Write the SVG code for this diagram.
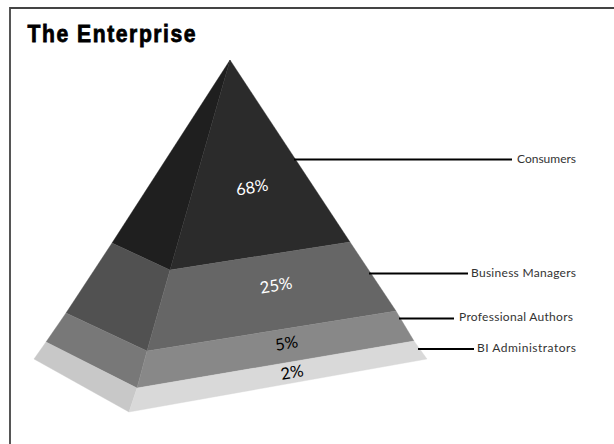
<svg xmlns="http://www.w3.org/2000/svg" width="614" height="444" viewBox="0 0 614 444">
<style>
.lead{stroke:#000;stroke-width:2.2;fill:none}
.lbl{font-family:"Lato","Liberation Sans",sans-serif;font-size:12px;fill:#333}
.pct{font-family:"Lato","Liberation Sans",sans-serif;font-size:16.500px;text-anchor:middle}
polygon{stroke-width:.4}
</style>
<rect width="614" height="444" fill="#fff"/>
<path d="M10 444V8H614" fill="none" stroke="#444" stroke-width="1.800"/>
<text transform="translate(27.500,42) scale(.88,1)" font-family="'Liberation Sans',sans-serif" font-size="24" font-weight="700" stroke="#000" stroke-width=".8" textLength="191" lengthAdjust="spacing" fill="#000">The Enterprise</text>
<g id="tier-consumers">
<polygon points="230,60 112,243 170,270" fill="#1f1f1f" stroke="#1f1f1f"/>
<polygon points="230,60 170,270 350,242" fill="#2b2b2b" stroke="#2b2b2b"/>
<text class="pct" transform="translate(253,193) rotate(-10)" fill="#fff">68%</text>
</g>
<g id="tier-managers">
<polygon points="112,243 170,270 147,351 66,313" fill="#515151" stroke="#515151"/>
<polygon points="170,270 350,242 396,311 147,351" fill="#666" stroke="#666"/>
<text class="pct" transform="translate(277,291) rotate(-10)" fill="#fff">25%</text>
</g>
<g id="tier-authors">
<polygon points="66,313 147,351 137,388 46,342" fill="#787878" stroke="#787878"/>
<polygon points="147,351 396,311 414,341 137,388" fill="#888" stroke="#888"/>
<text class="pct" transform="translate(287.500,349) rotate(-10)" fill="#000">5%</text>
</g>
<g id="tier-admins">
<polygon points="46,342 137,388 129,412 34,359" fill="#c8c8c8" stroke="#c8c8c8"/>
<polygon points="137,388 414,341 427,359 129,412" fill="#d9d9d9" stroke="#d9d9d9"/>
<text class="pct" transform="translate(293,378) rotate(-10)" fill="#000">2%</text>
</g>
<g id="connectors">
<path class="lead" d="M294 159.500H512"/>
<path class="lead" d="M369 273.500H468"/>
<path class="lead" d="M399 318.500H454"/>
<path class="lead" d="M418 349H474"/>
</g>
<g id="labels">
<text class="lbl" x="517" y="163" textLength="59">Consumers</text>
<text class="lbl" x="471" y="277" textLength="105">Business Managers</text>
<text class="lbl" x="459" y="321" textLength="114">Professional Authors</text>
<text class="lbl" x="477" y="352" textLength="99">BI Administrators</text>
</g>
</svg>
